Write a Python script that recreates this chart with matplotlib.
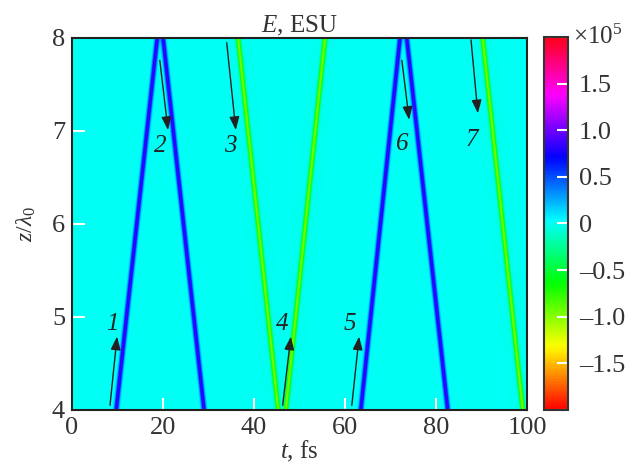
import numpy as np
import matplotlib
matplotlib.use("Agg")
import matplotlib.pyplot as plt

plt.rcParams["font.family"] = ["Liberation Serif", "DejaVu Serif"]
plt.rcParams["mathtext.fontset"] = "custom"
plt.rcParams["mathtext.rm"] = "Liberation Serif"
plt.rcParams["mathtext.it"] = "Liberation Serif:italic"

# pulse tracks: time (fs) at z=4 and at z=8, field amplitude (ESU)
t_at_z4 = [9.7, 29.0, 45.3, 47.0, 63.5, 82.6, 99.1]
t_at_z8 = [18.7, 20.0, 36.5, 55.6, 72.1, 73.6, 90.3]
amplitude = [0.9e5, 0.9e5, -1.0e5, -1.0e5, 0.9e5, 0.9e5, -1.0e5]
track_width = 0.5  # fs

# arrow annotations: label, tail (t, z), head (t, z), label position (t, z)
arrow_labels = ["1", "2", "3", "4", "5", "6", "7"]
arrow_tail = [(8.35, 4.05), (19.3, 7.76), (34.0, 7.95), (46.3, 4.05), (61.5, 4.05), (72.5, 7.76), (87.7, 7.98)]
arrow_head = [(9.9, 4.79), (21.1, 7.01), (36.0, 7.01), (48.1, 4.79), (63.1, 4.79), (74.1, 7.12), (89.2, 7.19)]
label_pos = [(8.9, 4.92), (19.5, 6.84), (34.7, 6.84), (46.3, 4.92), (61.0, 4.92), (72.6, 6.86), (87.8, 6.9)]

cbar_ticks = [-2e5, -1.5e5, -1.0e5, -0.5e5, 0, 0.5e5, 1.0e5, 1.5e5, 2e5]
cbar_labels = ["", "\u20131.5", "\u20131.0", "\u20130.5", "0", "0.5", "1.0", "1.5", ""]

# field map
t = np.linspace(0, 100, 1200)
z = np.linspace(4, 8, 500)
T, Z = np.meshgrid(t, z)
E = np.zeros_like(T)
for t4, t8, a in zip(t_at_z4, t_at_z8, amplitude):
    tc = t4 + (t8 - t4) * (Z - 4) / 4
    E += a * np.exp(-((T - tc) / track_width) ** 2)

fig = plt.figure(figsize=(6.39, 4.72), dpi=100)
ax = fig.add_axes([0.1127, 0.1314, 0.712, 0.7881])
cax = fig.add_axes([0.8513, 0.1314, 0.0376, 0.7902])

im = ax.imshow(E, extent=[0, 100, 4, 8], origin="lower", aspect="auto",
               cmap="hsv", vmin=-2e5, vmax=2e5, interpolation="bilinear")

for lab, tail, head, lp in zip(arrow_labels, arrow_tail, arrow_head, label_pos):
    ax.annotate("", xy=head, xytext=tail,
                arrowprops=dict(arrowstyle="-|>,head_length=0.8,head_width=0.3",
                                color="#222222", lw=1.0, shrinkA=0, shrinkB=0))
    ax.text(lp[0], lp[1], lab, fontsize=18, style="italic", color="#222222",
            ha="center", va="center")

ax.set_xlim(0, 100)
ax.set_ylim(4, 8)
ax.set_xticks([0, 20, 40, 60, 80, 100])
ax.set_yticks([4, 5, 6, 7, 8])
ax.tick_params(direction="in", color="white", length=9, width=1.5,
               labelsize=19, labelcolor="#333333", pad=5)
for s in ax.spines.values():
    s.set_color("#222222")
    s.set_linewidth(1.5)
ax.set_title("$E$, ESU", fontsize=18, color="#333333", pad=4)
ax.set_xlabel("$t$, fs", fontsize=18, color="#333333", labelpad=0)
ax.set_ylabel("$z/\\lambda_0$", fontsize=17, color="#333333", labelpad=10)

cb = fig.colorbar(im, cax=cax)
cb.set_ticks(cbar_ticks)
cb.set_ticklabels(cbar_labels)
cax.tick_params(direction="in", color="white", length=8, width=1.5,
                labelsize=19, labelcolor="#333333", pad=8)
cb.outline.set_edgecolor("#333333")
cb.outline.set_linewidth(1.5)
cax.text(1.2, 1.0, "\u00d710$^5$", transform=cax.transAxes, fontsize=18,
         color="#333333", ha="left", va="center")

fig.savefig("out.png", dpi=100)
